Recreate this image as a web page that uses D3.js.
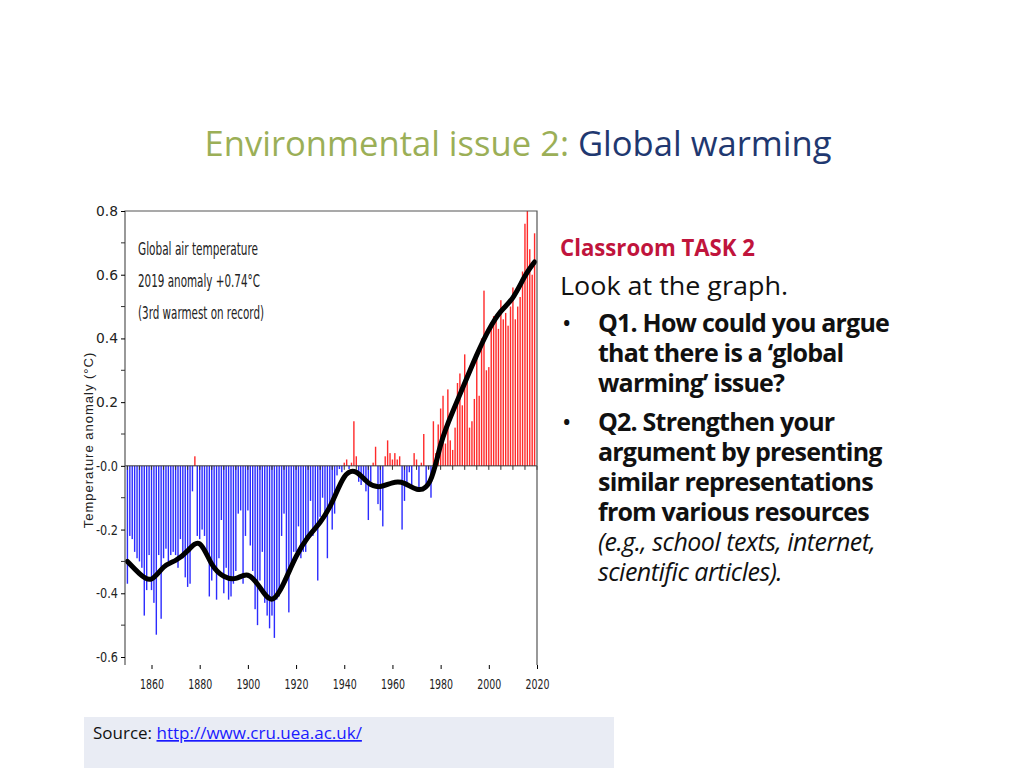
<!DOCTYPE html>
<html><head><meta charset="utf-8">
<script src="https://cdn.jsdelivr.net/npm/d3@7"></script>
<style>body{margin:0;background:#fff}svg{display:block}</style>
</head><body><svg id="c" width="1024" height="768"></svg>
<script>
const startYear = 1850;
const anomalies = [
-0.37,-0.22,-0.23,-0.27,-0.29,-0.30,-0.32,-0.47,-0.39,-0.28,
-0.39,-0.43,-0.53,-0.28,-0.48,-0.29,-0.26,-0.30,-0.28,-0.27,
-0.28,-0.32,-0.23,-0.29,-0.35,-0.38,-0.37,-0.08,0.03,-0.22,
-0.23,-0.20,-0.22,-0.28,-0.41,-0.36,-0.33,-0.42,-0.29,-0.17,
-0.40,-0.32,-0.42,-0.41,-0.37,-0.33,-0.15,-0.14,-0.37,-0.22,
-0.14,-0.25,-0.33,-0.45,-0.50,-0.36,-0.27,-0.43,-0.47,-0.51,
-0.47,-0.54,-0.42,-0.41,-0.22,-0.15,-0.36,-0.46,-0.32,-0.27,
-0.27,-0.19,-0.29,-0.27,-0.27,-0.22,-0.11,-0.22,-0.20,-0.36,
-0.16,-0.10,-0.16,-0.29,-0.13,-0.20,-0.15,-0.03,-0.01,-0.02,
0.01,0.02,-0.01,0.01,0.14,0.03,-0.05,-0.06,-0.05,-0.08,
-0.17,-0.05,0.01,0.06,-0.12,-0.14,-0.19,0.03,0.08,0.04,
0.02,0.04,0.02,0.03,-0.20,-0.11,-0.06,-0.02,-0.07,0.04,
0.02,-0.08,0.01,0.10,-0.07,-0.01,-0.10,0.14,0.04,0.13,
0.18,0.22,0.07,0.24,0.08,0.05,0.12,0.26,0.29,0.19,
0.35,0.29,0.12,0.14,0.21,0.36,0.22,0.40,0.55,0.30,
0.31,0.45,0.47,0.46,0.43,0.52,0.46,0.48,0.44,0.50,
0.56,0.46,0.50,0.53,0.61,0.76,0.80,0.68,0.60,0.73];
const smoothYears = [1850,1855,1860,1865,1870,1875,1880,1885,1890,1895,1900,1905,1910,1915,1920,1925,1930,1935,1940,1945,1950,1955,1960,1965,1970,1976,1980,1985,1990,1995,2000,2005,2010,2015,2019];
const smoothVals  = [-0.30,-0.34,-0.37,-0.31,-0.30,-0.27,-0.22,-0.32,-0.35,-0.36,-0.33,-0.38,-0.44,-0.37,-0.28,-0.22,-0.18,-0.12,-0.02,-0.01,-0.06,-0.07,-0.05,-0.05,-0.08,-0.07,0.08,0.17,0.26,0.35,0.43,0.49,0.52,0.60,0.64];
const yTicks = [0.8,0.6,0.4,0.2,0.0,-0.2,-0.4,-0.6];
const xTicks = [1860,1880,1900,1920,1940,1960,1980,2000,2020];
const bulletLines = [
 ["Q1. How could you argue","that there is a ‘global","warming’ issue?"],
 ["Q2. Strengthen your","argument by presenting","similar representations","from various resources"]];

const svg = d3.select("#c");
const t = svg.append("text").attr("x",518).attr("y",156).attr("text-anchor","middle")
 .attr("font-family","Open Sans, Liberation Sans, sans-serif").attr("font-size",34).attr("textLength",627).attr("lengthAdjust","spacingAndGlyphs");
t.append("tspan").attr("fill","#9BAF57").text("Environmental issue 2: ");
t.append("tspan").attr("fill","#1F3870").text("Global warming");

const x = d3.scaleLinear().domain([1849,2020]).range([125,537]);
const y = d3.scaleLinear().domain([-0.6,0.8]).range([657,211]);
const g = svg.append("g");
g.selectAll("rect.bar").data(anomalies).join("rect")
 .attr("x",(d,i)=>x(startYear+i)-0.7).attr("width",1.4)
 .attr("y",d=>y(Math.max(0,d))).attr("height",d=>Math.abs(y(d)-y(0)))
 .attr("fill",d=>d>=0?"#ff2a2a":"#2b2bff");
g.append("line").attr("x1",125).attr("x2",537).attr("y1",y(0)).attr("y2",y(0)).attr("stroke","#333").attr("stroke-width",1);
g.selectAll("line.mt").data(d3.range(1850,2021,5)).join("line")
 .attr("x1",d=>x(d)).attr("x2",d=>x(d)).attr("y1",y(0)).attr("y2",y(0)+4).attr("stroke","#333");
g.append("path").datum(smoothYears.map((d,i)=>[d,smoothVals[i]]))
 .attr("d",d3.line().x(d=>x(d[0])).y(d=>y(d[1])).curve(d3.curveBasis))
 .attr("fill","none").attr("stroke","#000").attr("stroke-width",5).attr("stroke-linecap","round");
g.append("path").attr("d","M125,665V211H537V665").attr("fill","none").attr("stroke","#555").attr("stroke-width",1.2);
const nf = d=>d===0?"-0.0":d.toFixed(1);
const cf = "DejaVu Sans, sans-serif";
const ya = g.append("g").attr("transform","translate(125,0)")
 .call(d3.axisLeft(y).tickValues(yTicks).tickSize(4).tickFormat(nf));
ya.select(".domain").remove();
ya.selectAll("text").attr("font-family",cf).attr("font-size",14).attr("fill","#222").attr("textLength",22).attr("lengthAdjust","spacingAndGlyphs");
g.selectAll("line.ym").data(d3.range(-0.5,0.8,0.2)).join("line").attr("x1",121).attr("x2",125)
 .attr("y1",d=>y(d)).attr("y2",d=>y(d)).attr("stroke","#333");
const xa = g.append("g").attr("transform","translate(0,665)")
 .call(d3.axisBottom(x).tickValues(xTicks).tickSize(4).tickFormat(d3.format("d")));
xa.select(".domain").remove();
xa.selectAll("text").attr("font-family",cf).attr("font-size",14).attr("fill","#222").attr("dy","1.2em").attr("textLength",24).attr("lengthAdjust","spacingAndGlyphs");
g.append("text").attr("transform","translate(93,440) rotate(-90)").attr("text-anchor","middle")
 .attr("font-family","Liberation Sans, sans-serif").attr("font-size",13).attr("letter-spacing",1).attr("fill","#222")
 .text("Temperature anomaly (°C)");
[["Global air temperature",120],["2019 anomaly +0.74°C",122],["(3rd warmest on record)",126]].forEach((s,i)=>
 g.append("text").attr("x",138).attr("y",255+i*32).attr("font-family",cf)
  .attr("font-size",18).attr("fill","#222").attr("textLength",s[1]).attr("lengthAdjust","spacingAndGlyphs").text(s[0]));

const ff="Open Sans, Liberation Sans, sans-serif";
const fs=25;
svg.append("text").attr("x",560).attr("y",256).attr("font-family",ff).attr("font-size",fs-1).attr("font-weight","bold").attr("fill","#C0143C").attr("textLength",195).attr("lengthAdjust","spacingAndGlyphs").text("Classroom TASK 2");
svg.append("text").attr("x",560).attr("y",295).attr("font-family",ff).attr("font-size",fs).attr("fill","#111").attr("textLength",228).attr("lengthAdjust","spacingAndGlyphs").text("Look at the graph.");
let yy=332;
bulletLines.forEach(lines=>{
 svg.append("text").attr("x",562).attr("y",yy).attr("font-family",ff).attr("font-size",fs).attr("fill","#111").text("•");
 lines.forEach(l=>{svg.append("text").attr("x",598).attr("y",yy).attr("font-family",ff).attr("font-size",fs).attr("font-weight","bold").attr("fill","#111").attr("letter-spacing",-0.8).text(l); yy+=30;});
 yy+=9;
});
yy-=9;
["(e.g., school texts, internet,","scientific articles)."].forEach(l=>{
 svg.append("text").attr("x",598).attr("y",yy).attr("font-family",ff).attr("font-size",fs).attr("font-style","italic").attr("fill","#111").attr("letter-spacing",-0.5).text(l); yy+=30;});

svg.append("rect").attr("x",84).attr("y",717).attr("width",530).attr("height",51).attr("fill","#E9ECF4");
const s = svg.append("text").attr("x",93).attr("y",739).attr("font-family",ff).attr("font-size",17).attr("fill","#111");
s.append("tspan").text("Source:  ");
s.append("tspan").attr("fill","#1a1aff").attr("text-decoration","underline").text("http://www.cru.uea.ac.uk/");
</script></body></html>
